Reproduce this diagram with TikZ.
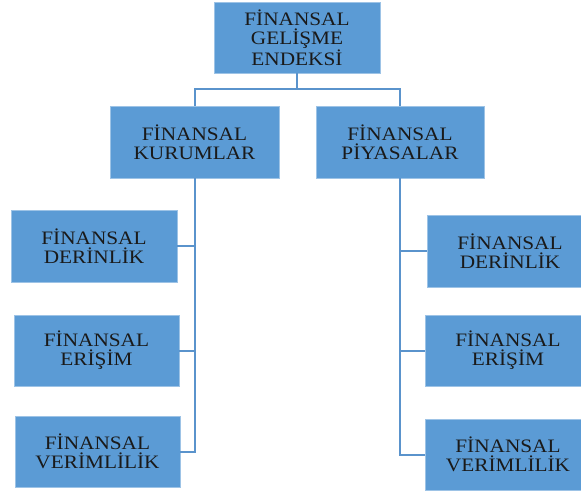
\documentclass[tikz,border=0pt]{standalone}
\usepackage{fontspec}
\usetikzlibrary{calc}
\setmainfont{Liberation Serif}[FakeStretch=1.12]
\definecolor{boxblue}{HTML}{5B9BD5}
\definecolor{boxedge}{HTML}{9DC3E6}
\definecolor{linkblue}{HTML}{5A93CC}
\definecolor{txt}{HTML}{1A1A1A}
\tikzset{
  box/.style={rectangle, fill=boxblue, draw=boxedge, line width=0.6pt, inner sep=0pt,
    align=center, text=txt, font=\fontsize{19}{19}\selectfont},
  link/.style={draw=linkblue, line width=2pt}
}
\begin{document}
\begin{tikzpicture}[x=1pt,y=-1pt]
\useasboundingbox (0,0) rectangle (581,490);
\clip (0,0) rectangle (581,490);
\node[box, minimum width=166pt, minimum height=71pt] (top) at (297,37.5) {FİNANSAL\\GELİŞME\\ENDEKSİ};
\node[box, minimum width=169pt, minimum height=72pt] (kur) at (194.5,142) {FİNANSAL\\KURUMLAR};
\node[box, minimum width=168pt, minimum height=72pt] (piy) at (400,142) {FİNANSAL\\PİYASALAR};
\node[box, minimum width=166pt, minimum height=72pt] (ld) at (94,246) {FİNANSAL\\DERİNLİK};
\node[box, minimum width=165pt, minimum height=71pt] (le) at (96.5,350.5) {FİNANSAL\\ERİŞİM};
\node[box, minimum width=165pt, minimum height=71pt] (lv) at (97.5,451.5) {FİNANSAL\\VERİMLİLİK};
\node[box, minimum width=166pt, minimum height=72pt] (rd) at (510,251) {FİNANSAL\\DERİNLİK};
\node[box, minimum width=166pt, minimum height=71pt] (re) at (508,350.5) {FİNANSAL\\ERİŞİM};
\node[box, minimum width=166pt, minimum height=71pt] (rv) at (508,454.5) {FİNANSAL\\VERİMLİLİK};
\coordinate (split) at ($(top.south)+(0,16)$);
\draw[link] (top.south) -- (split);
\draw[link] (split) -| (kur.north);
\draw[link] (split) -| (piy.north);
\draw[link] (kur.south) |- (lv.east);
\draw[link] (kur.south |- ld.east) -- (ld.east);
\draw[link] (kur.south |- le.east) -- (le.east);
\draw[link] (piy.south) |- (rv.west);
\draw[link] (piy.south |- rd.west) -- (rd.west);
\draw[link] (piy.south |- re.west) -- (re.west);
\end{tikzpicture}
\end{document}
